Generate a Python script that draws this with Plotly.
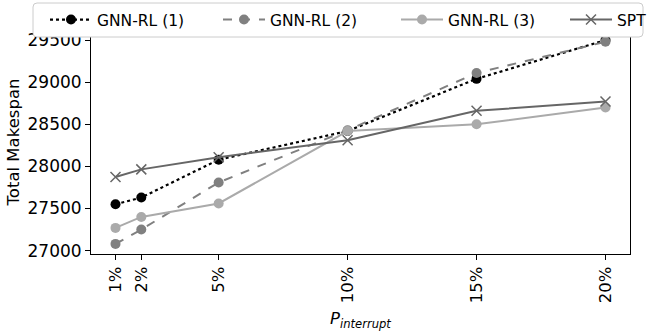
import plotly.graph_objects as go

p_interrupt = [1, 2, 5, 10, 15, 20]
tick_labels = ["1%", "2%", "5%", "10%", "15%", "20%"]
y_ticks = [27000, 27500, 28000, 28500, 29000, 29500]
gnn_rl_1 = [27550, 27630, 28080, 28420, 29040, 29500]
gnn_rl_2 = [27080, 27250, 27810, 28430, 29110, 29480]
gnn_rl_3 = [27270, 27400, 27560, 28420, 28500, 28700]
spt = [27875, 27965, 28110, 28310, 28660, 28770]

FONT = "DejaVu Sans"
W, H = 661, 331
ML, MR, MT, MB = 91, 31, 30, 77
PW, PH = W - ML - MR, H - MT - MB


def px2paper_x(px):
    return (px - ML) / PW


def px2paper_y(py):
    return (H - MB - py) / PH


fig = go.Figure()
fig.add_trace(go.Scatter(x=p_interrupt, y=gnn_rl_1, name="GNN-RL (1)", mode="lines+markers",
                         line=dict(color="black", width=2.2, dash="dot"),
                         marker=dict(symbol="circle", size=10, color="black"), legend="legend"))
fig.add_trace(go.Scatter(x=p_interrupt, y=gnn_rl_2, name="GNN-RL (2)", mode="lines+markers",
                         line=dict(color="#808080", width=2, dash="dash"),
                         marker=dict(symbol="circle", size=10, color="#808080"), legend="legend2"))
fig.add_trace(go.Scatter(x=p_interrupt, y=gnn_rl_3, name="GNN-RL (3)", mode="lines+markers",
                         line=dict(color="#aaaaaa", width=2),
                         marker=dict(symbol="circle", size=10, color="#aaaaaa"), legend="legend3"))
fig.add_trace(go.Scatter(x=p_interrupt, y=spt, name="SPT", mode="lines+markers",
                         line=dict(color="#666666", width=2),
                         marker=dict(symbol="x-thin", size=10, color="#666666",
                                     line=dict(color="#666666", width=1.5)), legend="legend4"))

# legend frame (rounded rectangle)
x0, x1 = px2paper_x(33), px2paper_x(643)
y0, y1 = px2paper_y(37), px2paper_y(3)
rx, ry = 4 / PW, 4 / PH
frame = (f"M{x0+rx},{y0} L{x1-rx},{y0} Q{x1},{y0} {x1},{y0+ry} L{x1},{y1-ry} Q{x1},{y1} {x1-rx},{y1} "
         f"L{x0+rx},{y1} Q{x0},{y1} {x0},{y1-ry} L{x0},{y0+ry} Q{x0},{y0} {x0+rx},{y0} Z")
fig.add_shape(type="path", path=frame, xref="paper", yref="paper", layer="above",
              fillcolor="white", line=dict(color="#cccccc", width=1))

legend_common = dict(orientation="h", xref="container", yref="container", xanchor="left",
                     y=1 - 20 / H, yanchor="middle", bgcolor="rgba(0,0,0,0)", borderwidth=0,
                     itemwidth=42, font=dict(size=15.5))
starts = [45, 218, 396, 565]
fig.update_layout(
    width=W, height=H,
    margin=dict(l=ML, r=MR, t=MT, b=MB, autoexpand=False),
    paper_bgcolor="white", plot_bgcolor="white",
    font=dict(family=FONT, size=16, color="black"),
    legend=dict(x=starts[0] / W, **legend_common),
    legend2=dict(x=starts[1] / W, **legend_common),
    legend3=dict(x=starts[2] / W, **legend_common),
    legend4=dict(x=starts[3] / W, **legend_common),
    showlegend=True,
)
fig.update_xaxes(range=[0.05, 20.95], tickmode="array", tickvals=p_interrupt, ticktext=tick_labels,
                 tickangle=-90, ticks="outside", ticklen=5, tickcolor="black",
                 showline=True, linecolor="black", linewidth=1, mirror=True, showgrid=False,
                 zeroline=False, tickfont=dict(size=16.5),
                 title=dict(text="<i>P</i><sub><i>interrupt</i></sub>", font=dict(size=16.5), standoff=10))
fig.update_yaxes(range=[26960, 29620], tickmode="array", tickvals=y_ticks,
                 ticktext=[str(v) for v in y_ticks],
                 ticks="outside", ticklen=5, tickcolor="black",
                 showline=True, linecolor="black", linewidth=1, mirror=True, showgrid=False,
                 zeroline=False, tickfont=dict(size=17),
                 title=dict(text="Total Makespan", font=dict(size=16.5), standoff=3))

fig.write_html("out.html")
